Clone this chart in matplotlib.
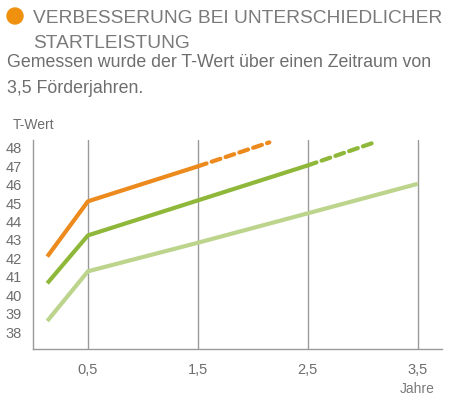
import matplotlib
matplotlib.use("Agg")
import matplotlib.pyplot as plt
from matplotlib.patches import Ellipse

# data
years_orange = [0.13, 0.5, 1.5]
vals_orange = [42.1, 45.1, 47.0]
years_orange_dash = [1.5, 2.15]
vals_orange_dash = [47.0, 48.3]

years_green = [0.13, 0.5, 1.5, 2.5]
vals_green = [40.65, 43.25, 45.15, 47.05]
years_green_dash = [2.5, 3.12]
vals_green_dash = [47.05, 48.33]

years_light = [0.13, 0.5, 1.5, 2.5, 3.5]
vals_light = [38.6, 41.3, 42.85, 44.45, 46.05]

x_ticks = [0.5, 1.5, 2.5, 3.5]
x_labels = ["0,5", "1,5", "2,5", "3,5"]
y_ticks = list(range(38, 49))

ORANGE = "#ec8a1e"
GREEN = "#8fb83a"
LIGHT = "#bcd48c"
FONT = "Liberation Sans"

plt.rcParams["font.family"] = [FONT, "DejaVu Sans"]

fig = plt.figure(figsize=(4.7, 4.0), dpi=100)
ax = fig.add_axes([0.0702, 0.1275, 0.87, 0.5225])

# vertical grid lines at the year marks
for x in x_ticks:
  ax.axvline(x, color="#9a9a9a", lw=1.0, zorder=1)

lw = 3.0
ax.plot(years_light, vals_light, color=LIGHT, lw=lw, solid_capstyle="butt", zorder=3)
ax.plot(years_green, vals_green, color=GREEN, lw=lw, solid_capstyle="butt", zorder=3)
ax.plot(years_green_dash, vals_green_dash, color=GREEN, lw=lw, dashes=(2.2, 1.3),
        dash_capstyle="round", zorder=3)
ax.plot(years_orange, vals_orange, color=ORANGE, lw=lw, solid_capstyle="butt", zorder=3)
ax.plot(years_orange_dash, vals_orange_dash, color=ORANGE, lw=lw, dashes=(2.2, 1.3),
        dash_capstyle="round", zorder=3)

ax.set_xlim(0, 3.72)
ax.set_ylim(37.08, 48.43)
ax.set_xticks(x_ticks)
ax.set_xticklabels(x_labels)
ax.set_yticks(y_ticks)
ax.tick_params(axis="both", length=0, labelsize=10.5, labelcolor="#6e6e6e")
ax.tick_params(axis="x", pad=10)
ax.tick_params(axis="y", pad=8)
for s in ["top", "right"]:
  ax.spines[s].set_visible(False)
for s in ["left", "bottom"]:
  ax.spines[s].set_color("#9a9a9a")
  ax.spines[s].set_linewidth(1.0)

# axis captions
fig.text(13/470, 1 - 125/400, "T-Wert", fontsize=10, color="#6e6e6e", va="center", ha="left")
fig.text(417/470, 1 - 389/400, "Jahre", fontsize=10, color="#7a7a7a", va="center", ha="center")

# header
fig.patches.append(Ellipse((15/470, 1 - 16/400), 16/470, 16/400, transform=fig.transFigure,
                           color="#f0900f", figure=fig))
fig.text(33/470, 1 - 23/400, "VERBESSERUNG BEI UNTERSCHIEDLICHER", fontsize=13.8,
         color="#7a7a7a", va="baseline", ha="left")
fig.text(33/470, 1 - 48/400, "STARTLEISTUNG", fontsize=13.8,
         color="#7a7a7a", va="baseline", ha="left")
fig.text(7/470, 1 - 67/400, "Gemessen wurde der T-Wert über einen Zeitraum von",
         fontsize=12.8, color="#6e6e6e", va="baseline", ha="left")
fig.text(7/470, 1 - 93/400, "3,5 Förderjahren.",
         fontsize=12.8, color="#6e6e6e", va="baseline", ha="left")

fig.savefig("out.png", dpi=100, facecolor="white")
